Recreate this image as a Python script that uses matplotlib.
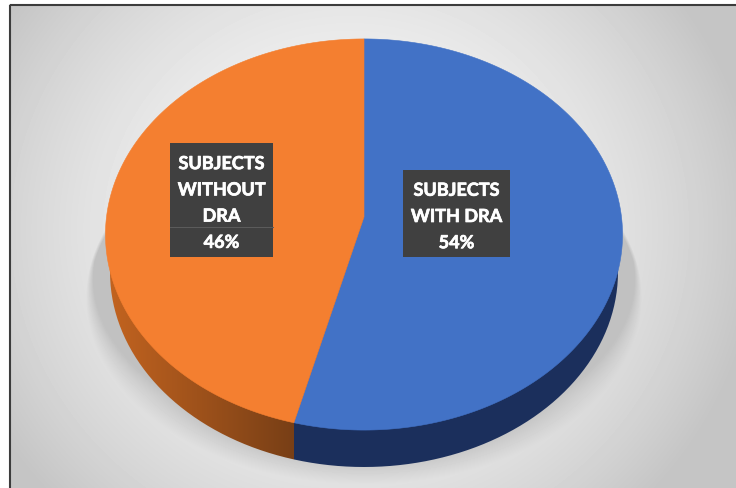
import numpy as np
import matplotlib
matplotlib.use("Agg")
import matplotlib.pyplot as plt
import matplotlib.patheffects as pe
from matplotlib.patches import Rectangle, PathPatch, Polygon
from matplotlib.path import Path

categories = ["SUBJECTS\nWITH DRA", "SUBJECTS\nWITHOUT\nDRA"]
shares = [54, 46]
top_colors = ["#4272C6", "#F47F30"]

W, H = 736, 488
fig = plt.figure(figsize=(W / 100, H / 100), dpi=100, facecolor="white")
ax = fig.add_axes([0, 0, 1, 1])
ax.set_xlim(0, W)
ax.set_ylim(H, 0)
ax.axis("off")

# Pie geometry in pixel space, with a slight perspective on the disc
CX, HUB_Y, A, B, K = 364.0, 217.0, 257.5, 194.0, 0.0895
BASE_CY, BASE_RX, BASE_RY = 272.0, 254.0, 195.0


def project(theta):
    """Map a clockwise-from-top angle on the disc to the tilted pie."""
    u, v = np.sin(theta), -np.cos(theta)
    d = 1 - K * v
    return CX + A * u / d, HUB_Y + B * v / d


# Backdrop: soft radial grey
yy, xx = np.mgrid[0:H, 0:W] + 0.5
dist = np.hypot(xx - 350, (yy - 230) / 0.95)
backdrop = np.clip(0.965 - 0.185 * (dist / 400) ** 2, 0.77, 1.0)

# Cast shadow beneath the disc, tight at the sides and soft towards the bottom
r = np.hypot((xx - CX) / 278.0, (yy - 298.0) / 187.0)
soft = np.clip(0.26 * ((yy - 205) / 260) ** 2, 0.012, 0.14)
alpha = np.clip((1 - r) / soft, 0, 1)
backdrop = backdrop * (1 - alpha) + 0.755 * alpha
ax.imshow(backdrop, cmap="gray", vmin=0, vmax=1, extent=(0, W, H, 0),
          aspect="auto", zorder=0, interpolation="bilinear")

# Frame along the top and left of the plot area
ax.plot([9.5, 9.5], [H, 4.5], color="#3c3c3c", lw=1.5, zorder=1, solid_capstyle="butt")
ax.plot([9.5, W], [4.5, 4.5], color="#3c3c3c", lw=1.5, zorder=1, solid_capstyle="butt")
ax.add_patch(Rectangle((0, 0), 9, H, fc="white", ec="none", zorder=0.5))
ax.add_patch(Rectangle((0, 0), W, 4, fc="white", ec="none", zorder=0.5))

# Cumulative slice angles, clockwise from twelve o'clock
edges = np.cumsum([0] + shares) / sum(shares) * 2 * np.pi
split_x, _ = project(edges[1])

# Side wall: lower edge of the base ellipse, shaded per slice
t = np.linspace(0, 2 * np.pi, 361)
base = Path(np.column_stack([CX + BASE_RX * np.cos(t), BASE_CY + BASE_RY * np.sin(t)]))
ramp = np.linspace(0, 1, 256)
left_rgb = np.array([0xC6, 0x65, 0x20]) / 255
right_rgb = np.array([0x78, 0x3F, 0x16]) / 255
band = (left_rgb[None, :] * (1 - ramp[:, None]) + right_rgb[None, :] * ramp[:, None])[None, :, :]
wall_orange = ax.imshow(band, extent=(100, split_x, H, 0), aspect="auto", zorder=2)
wall_orange.set_clip_path(PathPatch(base, transform=ax.transData))
navy = ax.imshow(np.array([[[0x1B, 0x2F, 0x5C]]], dtype=np.uint8),
                 extent=(split_x, 630, H, 0), aspect="auto", zorder=2)
navy.set_clip_path(PathPatch(base, transform=ax.transData))
ax.set_xlim(0, W)
ax.set_ylim(H, 0)

# Top face slices
for start, end, color in zip(edges[:-1], edges[1:], top_colors):
    arc = np.linspace(start, end, 240)
    px, py = project(arc)
    pts = np.column_stack([np.r_[CX, px], np.r_[HUB_Y, py]])
    ax.add_patch(Polygon(pts, closed=True, fc=color, ec=color, lw=0.4, zorder=3))

# Data labels on dark boxes
boxes = [(403, 170, 107, 87), (170, 143, 103, 114)]
for name, share, (bx, by, bw, bh) in zip(categories, shares, boxes):
    ax.add_patch(Rectangle((bx, by), bw, bh, fc="#404040", ec="none", zorder=4))
    ax.text(bx + bw / 2, by + bh / 2 + 3, f"{name}\n{share}%", color="white",
            family="Lato", weight="bold", fontsize=13, ha="center", va="center",
            linespacing=1.66, zorder=5,
            path_effects=[pe.withStroke(linewidth=0.5, foreground="white")])
ax.plot([170, 273], [226.5, 226.5], color="#5c5c5c", lw=0.7, zorder=4.5)

fig.savefig("out.png", dpi=100, facecolor="white")
